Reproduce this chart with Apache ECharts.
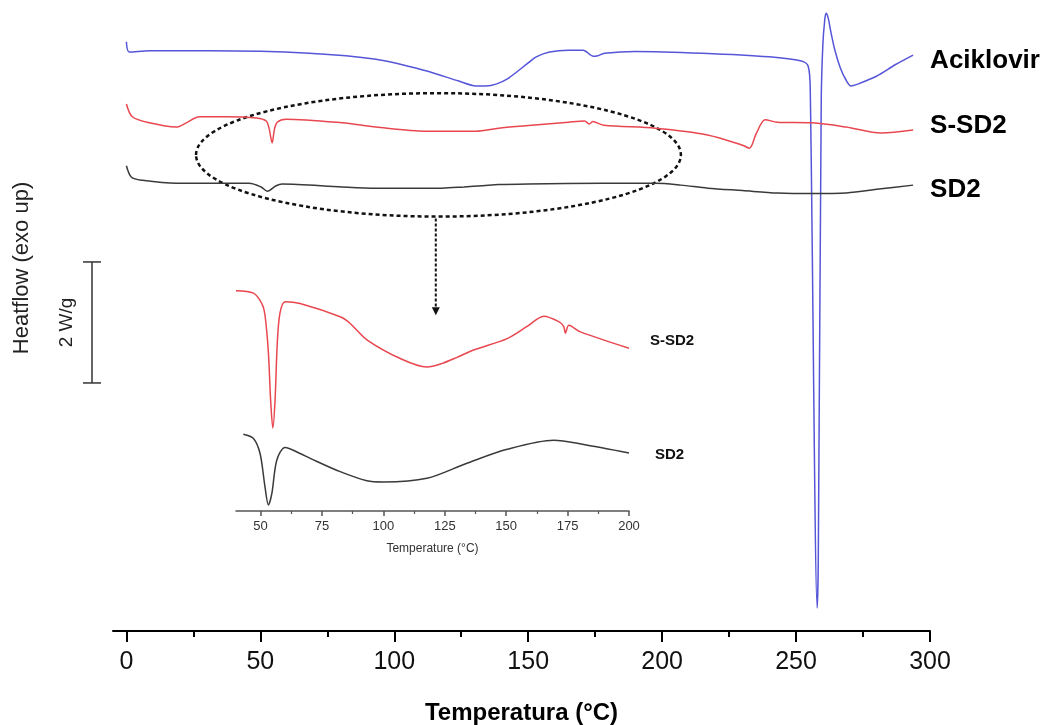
<!DOCTYPE html>
<html>
<head>
<meta charset="utf-8">
<script src="https://cdn.jsdelivr.net/npm/echarts@6/dist/echarts.min.js"></script>
<style>
  html, body { margin: 0; padding: 0; background: #fff; }
  #chart { width: 1047px; height: 725px; }
</style>
</head>
<body>
<div id="chart"></div>
<script>
// main DSC curves: temperature (°C) and heat flow (W/g, stacked offsets)
var acikTemp = [0, 1.1, 8.6, 30.9, 68.2, 93.2, 111.8, 124.1, 130.5, 134.2, 138, 142.7, 150, 153, 158, 165, 170.5, 174.3, 176, 178.5, 190, 215, 240, 252, 254.5, 255.3, 257.9, 258.3, 259.4, 260, 260.7, 261.2, 262, 263, 264.5, 266.5, 268.5, 270.5, 273, 280, 287, 293.7];
var acikFlow = [9.74, 9.57, 9.59, 9.59, 9.55, 9.45, 9.26, 9.09, 9.01, 9.01, 9.04, 9.14, 9.39, 9.49, 9.57, 9.60, 9.60, 9.50, 9.51, 9.55, 9.58, 9.55, 9.49, 9.42, 9.34, 8.94, 0.38, 1.17, 8.78, 9.69, 10.10, 10.21, 10.13, 9.90, 9.60, 9.31, 9.12, 9.01, 9.04, 9.17, 9.36, 9.52];

var ssdTemp = [0, 2.2, 8.6, 18.6, 22.4, 27.2, 37.3, 48.5, 52.2, 53.3, 54.4, 55.3, 56.3, 59.6, 80.5, 93.2, 111.8, 130.5, 139, 149, 165, 171, 172.9, 174, 178.2, 197.5, 216.9, 230, 232.6, 235.2, 238.5, 243, 256, 268.7, 281.8, 293.7];
var ssdFlow = [8.71, 8.50, 8.40, 8.33, 8.40, 8.50, 8.50, 8.48, 8.43, 8.30, 8.07, 8.30, 8.41, 8.46, 8.40, 8.33, 8.26, 8.26, 8.31, 8.35, 8.41, 8.43, 8.38, 8.42, 8.36, 8.31, 8.20, 8.03, 7.98, 8.23, 8.45, 8.41, 8.40, 8.33, 8.23, 8.28];

var sdTemp = [0, 1.9, 6, 18.6, 45.8, 50.3, 52.6, 55.9, 58.1, 80.5, 93.2, 117.8, 126, 133, 139, 150, 178, 197.5, 207, 217, 230, 243, 256, 268.7, 281.8, 293.7];
var sdFlow = [7.69, 7.50, 7.45, 7.40, 7.40, 7.34, 7.27, 7.36, 7.39, 7.34, 7.32, 7.32, 7.34, 7.36, 7.38, 7.39, 7.40, 7.40, 7.37, 7.32, 7.28, 7.24, 7.23, 7.24, 7.31, 7.37];

// inset (zoom 40-200 °C)
var inRedTemp = [40, 47.1, 50.5, 51.8, 53.2, 54.1, 55.0, 55.9, 56.8, 57.9, 60, 66.1, 82.4, 86.5, 93.3, 106.9, 117.7, 124, 130, 136.7, 150.4, 158.5, 165.3, 171.4, 173.4, 174.1, 175.5, 180.2, 200];
var inRedFlow = [3.64, 3.60, 3.43, 3.24, 2.61, 1.83, 1.37, 1.83, 2.77, 3.27, 3.46, 3.43, 3.21, 3.10, 2.83, 2.52, 2.38, 2.44, 2.54, 2.66, 2.85, 3.05, 3.22, 3.13, 3.05, 2.94, 3.07, 2.96, 2.69];

var inBlackTemp = [43, 47.1, 49.8, 51.8, 53.2, 54.6, 56.6, 60, 66.1, 70.2, 82.4, 93.3, 100, 117.7, 134, 150.4, 169.4, 181.6, 200];
var inBlackFlow = [1.27, 1.20, 0.95, 0.40, 0.10, 0.29, 0.84, 1.05, 0.95, 0.87, 0.65, 0.50, 0.48, 0.54, 0.79, 1.02, 1.17, 1.10, 0.96];

// tick labels
var mainTicks = [0, 50, 100, 150, 200, 250, 300];
var mainMinor = [25, 75, 125, 175, 225, 275];
var insetTicks = [50, 75, 100, 125, 150, 175, 200];
var insetMinor = [62.5, 87.5, 112.5, 137.5, 162.5, 187.5];

// annotation in main data units
var ellipseCenter = [116.5, 7.87];
var ellipseRadius = [90.5, 1.02];
var arrowTemp = 115.5;
var arrowEnd = 5.22;
var scaleBar = [4.10, 6.10]; // 2 W/g

var FONT = "Liberation Sans, Arial, sans-serif";

function pairs(xs, ys) {
  return xs.map(function (x, i) { return [x, ys[i]]; });
}

var chart = echarts.init(document.getElementById("chart"));

var option = {
  animation: false,
  backgroundColor: "#fff",
  grid: [
    { left: 113, right: 117, top: 0, bottom: 94, containLabel: false, outerBoundsMode: "none" },
    { left: 236, right: 418, top: 269, bottom: 214, containLabel: false, outerBoundsMode: "none" }
  ],
  xAxis: [
    {
      type: "value", gridIndex: 0, position: "bottom", min: -5, max: 300,
      axisLine: { show: true, lineStyle: { color: "#000", width: 2 } },
      axisTick: { show: true, customValues: mainTicks, length: 11, lineStyle: { color: "#000", width: 2 } },
      axisLabel: { show: true, customValues: mainTicks, fontSize: 25, color: "#111", margin: 19, fontFamily: FONT },
      splitLine: { show: false },
      name: "Temperatura (°C)", nameLocation: "middle", nameGap: 70,
      nameTextStyle: { fontSize: 24, fontWeight: "bold", color: "#000", fontFamily: FONT }
    },
    {
      type: "value", gridIndex: 0, position: "bottom", min: -5, max: 300,
      axisLine: { show: false },
      axisTick: { show: true, customValues: mainMinor, length: 6, lineStyle: { color: "#000", width: 2 } },
      axisLabel: { show: false },
      splitLine: { show: false }
    },
    {
      type: "value", gridIndex: 1, position: "bottom", min: 40, max: 200,
      axisLine: { show: true, lineStyle: { color: "#555", width: 1.5 } },
      axisTick: { show: true, customValues: insetTicks, length: 5, lineStyle: { color: "#555", width: 1.5 } },
      axisLabel: { show: true, customValues: insetTicks, fontSize: 13, color: "#333", margin: 9, fontFamily: FONT },
      splitLine: { show: false },
      name: "Temperature (°C)", nameLocation: "middle", nameGap: 32,
      nameTextStyle: { fontSize: 12, color: "#333", fontFamily: FONT }
    },
    {
      type: "value", gridIndex: 1, position: "bottom", min: 40, max: 200,
      axisLine: { show: false },
      axisTick: { show: true, customValues: insetMinor, length: 3, lineStyle: { color: "#555", width: 1.2 } },
      axisLabel: { show: false },
      splitLine: { show: false }
    }
  ],
  yAxis: [
    { type: "value", gridIndex: 0, min: 0, max: 10.43, show: false },
    { type: "value", gridIndex: 1, min: 0, max: 4, show: false }
  ],
  series: [
    {
      name: "Aciklovir", type: "line", xAxisIndex: 0, yAxisIndex: 0,
      data: pairs(acikTemp, acikFlow), showSymbol: false, smooth: 0.3,
      lineStyle: { color: "#5555d8", width: 1.5 },
      endLabel: { show: true, formatter: "{a}", distance: 17, offset: [0, 6], fontSize: 26, fontWeight: "bold", color: "#000", fontFamily: FONT }
    },
    {
      name: "S-SD2", type: "line", xAxisIndex: 0, yAxisIndex: 0,
      data: pairs(ssdTemp, ssdFlow), showSymbol: false, smooth: 0.3,
      lineStyle: { color: "#e8474f", width: 1.5 },
      endLabel: { show: true, formatter: "{a}", distance: 17, offset: [0, -4], fontSize: 26, fontWeight: "bold", color: "#000", fontFamily: FONT }
    },
    {
      name: "SD2", type: "line", xAxisIndex: 0, yAxisIndex: 0,
      data: pairs(sdTemp, sdFlow), showSymbol: false, smooth: 0.3,
      lineStyle: { color: "#3a3a3a", width: 1.5 },
      endLabel: { show: true, formatter: "{a}", distance: 17, offset: [0, 5], fontSize: 26, fontWeight: "bold", color: "#000", fontFamily: FONT }
    },
    {
      name: "S-SD2 ", type: "line", xAxisIndex: 2, yAxisIndex: 1,
      data: pairs(inRedTemp, inRedFlow), showSymbol: false, smooth: 0.3,
      lineStyle: { color: "#e8474f", width: 1.5 },
      endLabel: { show: true, formatter: "S-SD2", distance: 21, offset: [0, -7], fontSize: 15, fontWeight: "bold", color: "#111", fontFamily: FONT }
    },
    {
      name: "SD2 ", type: "line", xAxisIndex: 2, yAxisIndex: 1,
      data: pairs(inBlackTemp, inBlackFlow), showSymbol: false, smooth: 0.3,
      lineStyle: { color: "#3a3a3a", width: 1.5 },
      endLabel: { show: true, formatter: "SD2", distance: 26, offset: [0, 2], fontSize: 15, fontWeight: "bold", color: "#111", fontFamily: FONT }
    }
  ]
};

chart.setOption(option);

// annotations: dashed ellipse, arrow, scale bar, y label
var c = chart.convertToPixel({ xAxisIndex: 0, yAxisIndex: 0 }, ellipseCenter);
var e = chart.convertToPixel({ xAxisIndex: 0, yAxisIndex: 0 }, [ellipseCenter[0] + ellipseRadius[0], ellipseCenter[1] - ellipseRadius[1]]);
var rx = e[0] - c[0], ry = e[1] - c[1];
var a0 = chart.convertToPixel({ xAxisIndex: 0, yAxisIndex: 0 }, [arrowTemp, ellipseCenter[1] - ellipseRadius[1]]);
var a1 = chart.convertToPixel({ xAxisIndex: 0, yAxisIndex: 0 }, [arrowTemp, arrowEnd]);
var sb0 = chart.convertToPixel({ yAxisIndex: 0 }, scaleBar[0]);
var sb1 = chart.convertToPixel({ yAxisIndex: 0 }, scaleBar[1]);
var barX = 92;

chart.setOption({
  graphic: [
    {
      type: "ellipse", shape: { cx: c[0], cy: c[1], rx: rx, ry: ry },
      style: { fill: null, stroke: "#111", lineWidth: 2.5, lineDash: [4, 3] }, silent: true
    },
    {
      type: "line", shape: { x1: a0[0], y1: a0[1] + 2, x2: a1[0], y2: a1[1] - 7 },
      style: { stroke: "#111", lineWidth: 2, lineDash: [3, 2] }, silent: true
    },
    {
      type: "polygon", shape: { points: [[a1[0] - 4, a1[1] - 8], [a1[0] + 4, a1[1] - 8], [a1[0], a1[1]]] },
      style: { fill: "#111" }, silent: true
    },
    {
      type: "line", shape: { x1: barX, y1: sb1, x2: barX, y2: sb0 },
      style: { stroke: "#333", lineWidth: 1.5 }, silent: true
    },
    {
      type: "line", shape: { x1: barX - 9, y1: sb1, x2: barX + 9, y2: sb1 },
      style: { stroke: "#333", lineWidth: 1.5 }, silent: true
    },
    {
      type: "line", shape: { x1: barX - 9, y1: sb0, x2: barX + 9, y2: sb0 },
      style: { stroke: "#333", lineWidth: 1.5 }, silent: true
    },
    {
      type: "text", x: 67, y: (sb0 + sb1) / 2, rotation: Math.PI / 2,
      style: { text: "2 W/g", fontSize: 19, fill: "#222", fontFamily: FONT, align: "center", verticalAlign: "middle" }
    },
    {
      type: "text", x: 22, y: 268, rotation: Math.PI / 2,
      style: { text: "Heatflow (exo up)", fontSize: 22, fill: "#222", fontFamily: FONT, align: "center", verticalAlign: "middle" }
    }
  ]
});

window.addEventListener("resize", function () { chart.resize(); });
</script>
</body>
</html>
